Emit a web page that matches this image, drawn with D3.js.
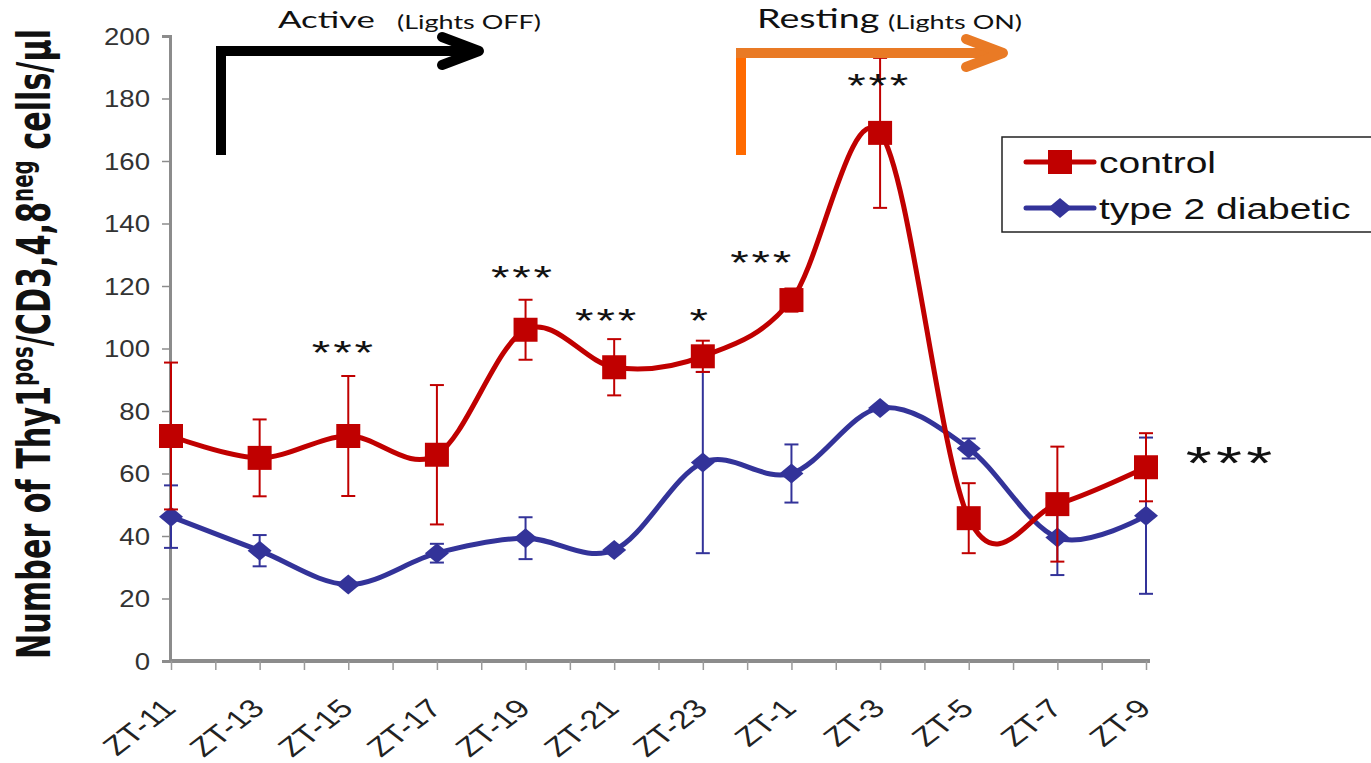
<!DOCTYPE html>
<html>
<head>
<meta charset="utf-8">
<script src="https://cdn.jsdelivr.net/npm/d3@7"></script>
<style>
  body { margin: 0; background: #fff; }
  svg { display: block; }
</style>
</head>
<body>
<div id="chart"></div>
<script>
// Data
const categories = ["ZT-11", "ZT-13", "ZT-15", "ZT-17", "ZT-19", "ZT-21", "ZT-23", "ZT-1", "ZT-3", "ZT-5", "ZT-7", "ZT-9"];
const controlMean = [72, 65, 72, 66, 106, 94, 97.5, 115.5, 169, 45.7, 50.2, 62];
const controlErr = [23.5, 12.3, 19.2, 22.3, 9.6, 9, 5, 3.7, 24, 11.2, 18.4, 10.9];
const diabeticMean = [46.2, 35.3, 24.5, 34.5, 39.3, 35.5, 63.5, 60, 81, 68, 39.5, 46.5];
const diabeticErr = [10, 5, 0.5, 3, 6.7, 1, 29, 9.3, 0.5, 3.2, 12, 25];
const yTicks = [0, 20, 40, 60, 80, 100, 120, 140, 160, 180, 200];

// significance marks: position as category index, level in y units
const sigText = ["***", "***", "***", "*", "***", "***"];
const sigIndex = [1.95, 3.97, 4.92, 5.97, 6.67, 7.99];
const sigLevel = [101, 125, 111.4, 111.4, 130, 186.6];

const seriesNames = ["control", "type 2 diabetic"];
const seriesColors = ["#c00000", "#333399"];

const W = 1371, H = 763;
const SX = 1.3; // the figure's text looks stretched sideways
const svg = d3.select("#chart").append("svg")
    .attr("width", W).attr("height", H)
    .style("font-family", "Arial, 'Liberation Sans', sans-serif");

const x = d3.scaleLinear().domain([0, categories.length - 1]).range([171, 1146]);
const y = d3.scaleLinear().domain([0, 200]).range([661, 36]);

// text stretched horizontally around its anchor
function wideText(parent, px, py, sx, size) {
    return parent.append("g")
        .attr("transform", `translate(${px},${py}) scale(${sx},1)`)
        .append("text")
        .attr("font-size", size);
}

// y axis
const yAxis = svg.append("g")
    .attr("transform", "translate(170,0)")
    .call(d3.axisLeft(y).tickValues(yTicks).tickSize(8));
yAxis.select(".domain").attr("stroke", "#8c8c8c").attr("stroke-width", 3);
yAxis.selectAll(".tick line").attr("stroke", "#8c8c8c").attr("stroke-width", 1.5);
yAxis.selectAll(".tick text")
    .attr("font-size", 23).attr("fill", "#333")
    .attr("x", 0).attr("dy", "0.36em")
    .attr("transform", "translate(-20,0) scale(1.2,1)");

// x axis, ticks at every half step
const xAxis = svg.append("g")
    .attr("transform", "translate(0,661)")
    .call(d3.axisBottom(x)
        .tickValues(d3.range(0, categories.length - 0.99, 0.5))
        .tickSize(9)
        .tickSizeOuter(0)
        .tickFormat(d => Number.isInteger(d) ? categories[d] : ""));
xAxis.select(".domain").attr("stroke", "#8c8c8c").attr("stroke-width", 4)
    .attr("d", "M170,0H1150");
xAxis.selectAll(".tick line").attr("stroke", "#9a9a9a").attr("stroke-width", 1.5);
xAxis.selectAll(".tick text")
    .attr("font-size", 26).attr("fill", "#222")
    .attr("text-anchor", "end")
    .attr("x", 0).attr("y", 0).attr("dy", 0)
    .attr("transform", `translate(6,49) scale(${SX},1) rotate(-45)`);

// y axis title
const title = svg.append("text")
    .attr("transform", "translate(50,344) rotate(-90) scale(1,1.45)")
    .attr("text-anchor", "middle")
    .attr("font-family", "'Liberation Sans Narrow', 'Arial Narrow', 'DejaVu Sans Condensed', Arial, sans-serif")
    .attr("font-weight", "bold")
    .attr("font-size", 32)
    .attr("fill", "#111")
    .attr("textLength", 630)
    .attr("lengthAdjust", "spacingAndGlyphs");
title.append("tspan").text("Number of Thy1");
title.append("tspan").attr("baseline-shift", "super").attr("font-size", 21).text("pos");
title.append("tspan").text("/CD3,4,8");
title.append("tspan").attr("baseline-shift", "super").attr("font-size", 21).text("neg");
title.append("tspan").text(" cells/\u03bcl");

// series
const series = [
    {name: seriesNames[0], color: seriesColors[0], mean: controlMean, err: controlErr, marker: "square"},
    {name: seriesNames[1], color: seriesColors[1], mean: diabeticMean, err: diabeticErr, marker: "diamond"}
];

// Excel-style smoothed line
const line = d3.line()
    .x((d, i) => x(i))
    .y(d => y(d))
    .curve(d3.curveCardinal.tension(0));

function drawMarker(g, type, color) {
    if (type === "square") {
        g.append("rect").attr("x", -12).attr("y", -12).attr("width", 24).attr("height", 24).attr("fill", color);
    } else {
        g.append("path").attr("d", "M0,-10L12,0L0,10L-12,0Z").attr("fill", color);
    }
}

// draw diabetic first so control sits on top as in the reference
[series[1], series[0]].forEach(s => {
    const g = svg.append("g");
    // error bars
    const eb = g.selectAll(".eb").data(s.mean).join("g")
        .attr("stroke", s.color).attr("stroke-width", 2);
    eb.append("line")
        .attr("x1", (d, i) => x(i)).attr("x2", (d, i) => x(i))
        .attr("y1", (d, i) => y(d + s.err[i])).attr("y2", (d, i) => y(d - s.err[i]));
    eb.append("line")
        .attr("x1", (d, i) => x(i) - 7).attr("x2", (d, i) => x(i) + 7)
        .attr("y1", (d, i) => y(d + s.err[i])).attr("y2", (d, i) => y(d + s.err[i]));
    eb.append("line")
        .attr("x1", (d, i) => x(i) - 7).attr("x2", (d, i) => x(i) + 7)
        .attr("y1", (d, i) => y(d - s.err[i])).attr("y2", (d, i) => y(d - s.err[i]));

    g.append("path")
        .datum(s.mean)
        .attr("d", line)
        .attr("fill", "none")
        .attr("stroke", s.color)
        .attr("stroke-width", 5)
        .attr("stroke-linejoin", "round");

    g.selectAll(".mk").data(s.mean).join("g")
        .attr("transform", (d, i) => `translate(${x(i)},${y(d)})`)
        .each(function () { drawMarker(d3.select(this), s.marker, s.color); });
});

// significance asterisks
sigText.forEach((t, i) => {
    wideText(svg, x(sigIndex[i]), y(sigLevel[i]), 1.4, 34)
        .attr("dy", "0.56em")
        .attr("text-anchor", "middle")
        .attr("letter-spacing", 2)
        .attr("fill", "#111")
        .text(t);
});

wideText(svg, x(11.96), y(66.6), 1.45, 46)
    .attr("dy", "0.56em")
    .attr("text-anchor", "middle")
    .attr("letter-spacing", 3)
    .attr("fill", "#111")
    .text("***");

// light phase arrows
function lArrow(x0, yBottom, yTop, xTip, colorV, colorH) {
    const g = svg.append("g").attr("fill", "none").attr("stroke-width", 10);
    g.append("path").attr("stroke", colorV)
        .attr("d", `M${x0},${yBottom}V${yTop - 5}`);
    g.append("path").attr("stroke", colorH)
        .attr("d", `M${x0 - 5},${yTop}H${xTip - 4}`);
    g.append("path").attr("stroke", colorH).attr("stroke-linecap", "round").attr("stroke-linejoin", "round")
        .attr("d", `M${xTip - 40},${yTop - 14}L${xTip - 3},${yTop}L${xTip - 40},${yTop + 14}`);
}
lArrow(221, 155, 51, 482, "#000", "#000");
lArrow(741, 155, 53, 1006, "#ff6a00", "#e97a25");

const phaseFont = "Lato, 'Open Sans', sans-serif";
wideText(svg, 278, 28, 1.45, 24).attr("font-family", phaseFont).attr("fill", "#111").text("Active");
wideText(svg, 397, 29, 1.42, 19).attr("font-family", phaseFont).attr("fill", "#111").text("(Lights OFF)");
wideText(svg, 757, 28, 1.45, 26).attr("font-family", phaseFont).attr("fill", "#111").text("Resting");
wideText(svg, 888, 29, 1.42, 19).attr("font-family", phaseFont).attr("fill", "#111").text("(Lights ON)");

// legend
const legend = svg.append("g");
legend.append("rect")
    .attr("x", 1002).attr("y", 137).attr("width", 400).attr("height", 95)
    .attr("fill", "#fff").attr("stroke", "#222").attr("stroke-width", 1.5);
series.forEach((s, i) => {
    const ly = 162 + i * 46;
    const lg = legend.append("g");
    lg.append("line").attr("x1", 1026).attr("x2", 1094).attr("y1", ly).attr("y2", ly)
        .attr("stroke", s.color).attr("stroke-width", 5).attr("stroke-linecap", "round");
    const m = lg.append("g").attr("transform", `translate(1060,${ly})`);
    drawMarker(m, s.marker, s.color);
    wideText(lg, 1099, ly, SX, 30)
        .attr("dy", "0.36em")
        .attr("fill", "#111").text(s.name);
});
</script>
</body>
</html>
